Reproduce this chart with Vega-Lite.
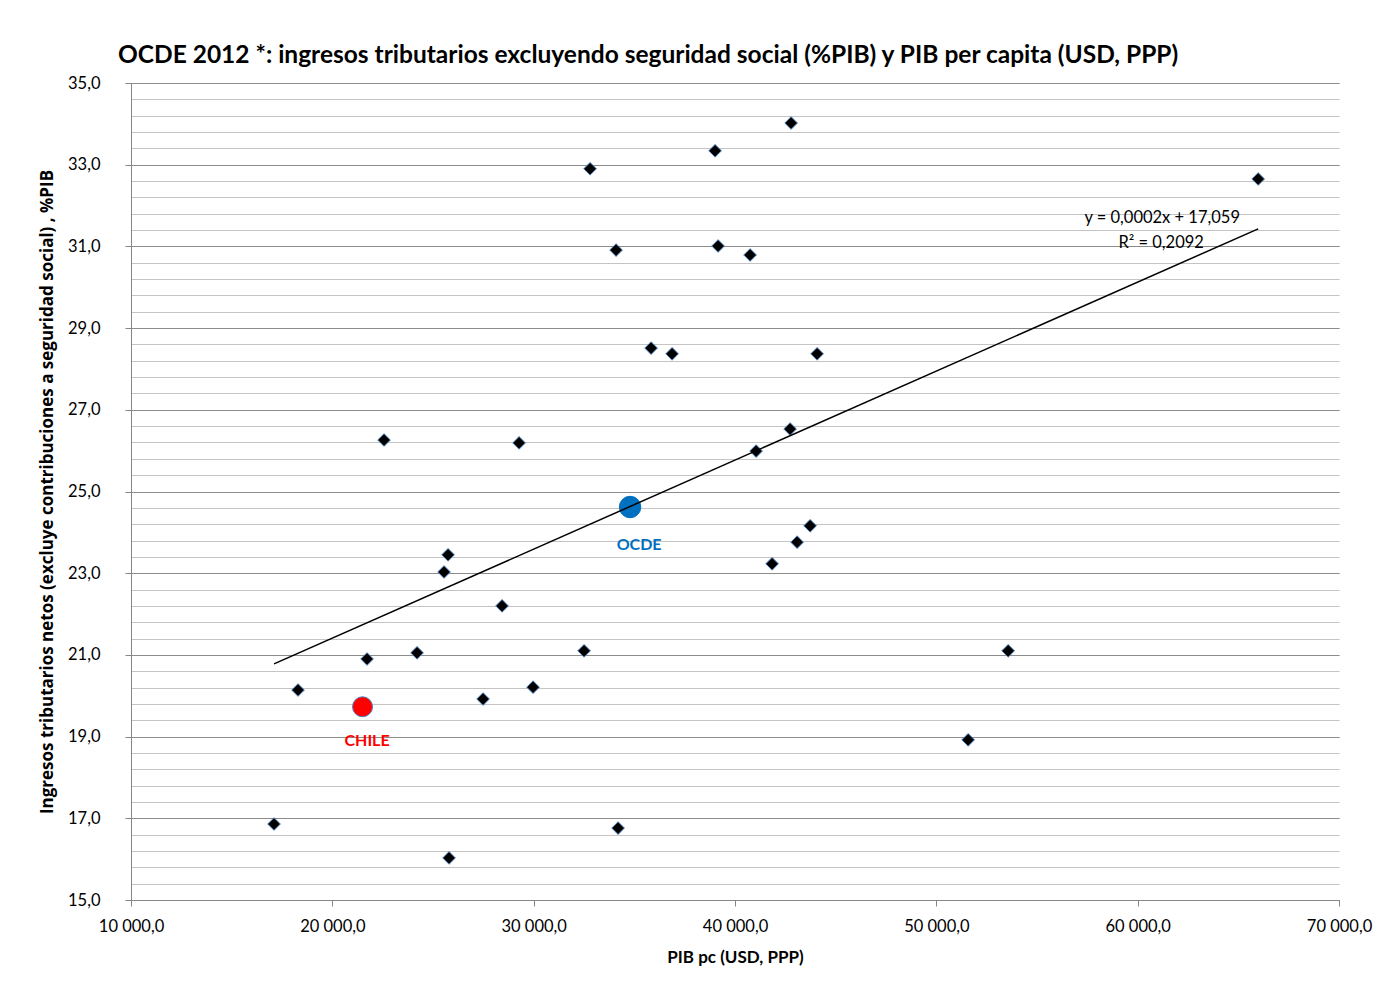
{
  "$schema": "https://vega.github.io/schema/vega-lite/v6.json",
  "width": 1208,
  "height": 817,
  "autosize": {"type": "none"},
  "padding": {"left": 131, "top": 83, "right": 61, "bottom": 93},
  "background": "white",
  "config": {
    "locale": {"number": {"decimal": ",", "thousands": " ", "grouping": [3], "currency": ["", ""]}},
    "view": {"stroke": null},
    "font": "Lato"
  },
  "title": {
    "text": "OCDE 2012 *: ingresos tributarios excluyendo seguridad social (%PIB) y PIB per capita (USD, PPP)",
    "anchor": "start",
    "frame": "group",
    "dx": -13,
    "offset": 7,
    "fontSize": 24.5,
    "font": "Lato",
    "fontWeight": "bold",
    "color": "black"
  },
  "datasets": {
    "paises": [
      {"pib": 32802, "ingresos": 32.90},
      {"pib": 39011, "ingresos": 33.34},
      {"pib": 42787, "ingresos": 34.02},
      {"pib": 65986, "ingresos": 32.65},
      {"pib": 34093, "ingresos": 30.91},
      {"pib": 39160, "ingresos": 31.01},
      {"pib": 40750, "ingresos": 30.79},
      {"pib": 35832, "ingresos": 28.51},
      {"pib": 36875, "ingresos": 28.37},
      {"pib": 44078, "ingresos": 28.37},
      {"pib": 22568, "ingresos": 26.26},
      {"pib": 29275, "ingresos": 26.19},
      {"pib": 42737, "ingresos": 26.53},
      {"pib": 41048, "ingresos": 25.99},
      {"pib": 43731, "ingresos": 24.16},
      {"pib": 43085, "ingresos": 23.76},
      {"pib": 41843, "ingresos": 23.23},
      {"pib": 25748, "ingresos": 23.45},
      {"pib": 25549, "ingresos": 23.03},
      {"pib": 28430, "ingresos": 22.20},
      {"pib": 32504, "ingresos": 21.10},
      {"pib": 24208, "ingresos": 21.05},
      {"pib": 21724, "ingresos": 20.90},
      {"pib": 53567, "ingresos": 21.10},
      {"pib": 18296, "ingresos": 20.14},
      {"pib": 29970, "ingresos": 20.21},
      {"pib": 27486, "ingresos": 19.92},
      {"pib": 51580, "ingresos": 18.92},
      {"pib": 17104, "ingresos": 16.86},
      {"pib": 34193, "ingresos": 16.76},
      {"pib": 25797, "ingresos": 16.03}
    ],
    "destacados": [
      {"pais": "CHILE", "pib": 21500, "ingresos": 19.73, "etiqueta_pib": 21724, "etiqueta_ingresos": 18.89},
      {"pais": "OCDE", "pib": 34789, "ingresos": 24.62, "etiqueta_pib": 35236, "etiqueta_ingresos": 23.69}
    ],
    "tendencia": [
      {"pib": 17104, "ingresos": 20.78},
      {"pib": 65986, "ingresos": 31.43}
    ],
    "ecuacion": [
      {"texto": "y = 0,0002x + 17,059", "pib": 61217, "ingresos": 31.70},
      {"texto": "R² = 0,2092", "pib": 61167, "ingresos": 31.08}
    ]
  },
  "layer": [
    {
      "data": {"name": "paises"},
      "mark": {"type": "point", "shape": "diamond", "filled": true, "fill": "black", "stroke": "#4F81BD", "strokeWidth": 1, "size": 160, "opacity": 1},
      "encoding": {
        "x": {
          "field": "pib", "type": "quantitative",
          "scale": {"domain": [10000, 70000], "nice": false, "zero": false},
          "axis": {
            "values": [10000, 20000, 30000, 40000, 50000, 60000, 70000],
            "format": ",.1f",
            "grid": false,
            "tickSize": 6,
            "tickColor": "#868686",
            "domainColor": "#868686",
            "labelFlush": false,
            "labelFont": "Lato",
            "labelFontSize": 16.5,
            "labelColor": "black",
            "labelPadding": 12,
            "title": "PIB pc (USD, PPP)",
            "titleFont": "Lato",
            "titleFontSize": 17,
            "titleFontWeight": "bold",
            "titleColor": "black",
            "titlePadding": 15
          }
        },
        "y": {
          "field": "ingresos", "type": "quantitative",
          "scale": {"domain": [15, 35], "nice": false, "zero": false},
          "axis": {
            "orient": "left",
            "values": [15, 15.4, 15.8, 16.2, 16.6, 17, 17.4, 17.8, 18.2, 18.6, 19, 19.4, 19.8, 20.2, 20.6, 21, 21.4, 21.8, 22.2, 22.6, 23, 23.4, 23.8, 24.2, 24.6, 25, 25.4, 25.8, 26.2, 26.6, 27, 27.4, 27.8, 28.2, 28.6, 29, 29.4, 29.8, 30.2, 30.6, 31, 31.4, 31.8, 32.2, 32.6, 33, 33.4, 33.8, 34.2, 34.6, 35],
            "grid": true,
            "gridColor": "#C4C4C4",
            "gridWidth": 1.2,
            "labels": false,
            "ticks": false,
            "domain": false,
            "title": null
          }
        }
      }
    },
    {
      "data": {"name": "destacados"},
      "mark": {"type": "point", "shape": "circle", "filled": true, "opacity": 1, "strokeWidth": 1},
      "encoding": {
        "x": {"field": "pib", "type": "quantitative"},
        "y": {
          "field": "ingresos", "type": "quantitative",
          "axis": {
            "orient": "left",
            "values": [15, 17, 19, 21, 23, 25, 27, 29, 31, 33, 35],
            "format": ",.1f",
            "grid": true,
            "gridColor": "#8C8C8C",
            "gridWidth": 1.2,
            "tickSize": 6,
            "tickColor": "#868686",
            "domainColor": "#868686",
            "labelFont": "Lato",
            "labelFontSize": 16.5,
            "labelColor": "black",
            "labelPadding": 25,
            "title": "Ingresos tributarios netos (excluye contribuciones a seguridad social) , %PIB",
            "titleFont": "Open Sans",
            "titleFontSize": 17,
            "titleFontWeight": "bold",
            "titleColor": "black",
            "titlePadding": 11
          }
        },
        "fill": {"field": "pais", "type": "nominal", "scale": {"domain": ["CHILE", "OCDE"], "range": ["#FF0000", "#0070C0"]}, "legend": null},
        "stroke": {"field": "pais", "type": "nominal", "scale": {"domain": ["CHILE", "OCDE"], "range": ["#4F81BD", "#0070C0"]}, "legend": null},
        "size": {"field": "pais", "type": "nominal", "scale": {"domain": ["CHILE", "OCDE"], "range": [400, 460]}, "legend": null}
      }
    },
    {
      "data": {"name": "destacados"},
      "mark": {"type": "text", "fontWeight": "bold", "fontSize": 16, "font": "Lato", "align": "center", "baseline": "middle"},
      "encoding": {
        "x": {"field": "etiqueta_pib", "type": "quantitative"},
        "y": {"field": "etiqueta_ingresos", "type": "quantitative", "axis": null},
        "text": {"field": "pais"},
        "color": {"field": "pais", "type": "nominal", "scale": {"domain": ["CHILE", "OCDE"], "range": ["#FF0000", "#0070C0"]}, "legend": null}
      }
    },
    {
      "data": {"name": "tendencia"},
      "mark": {"type": "line", "color": "black", "strokeWidth": 1.5},
      "encoding": {
        "x": {"field": "pib", "type": "quantitative"},
        "y": {"field": "ingresos", "type": "quantitative", "axis": null}
      }
    },
    {
      "data": {"name": "ecuacion"},
      "mark": {"type": "text", "fontSize": 16.5, "font": "Lato", "align": "center", "baseline": "middle", "color": "black"},
      "encoding": {
        "x": {"field": "pib", "type": "quantitative"},
        "y": {"field": "ingresos", "type": "quantitative", "axis": null},
        "text": {"field": "texto"}
      }
    }
  ],
  "resolve": {"axis": {"y": "independent"}}
}
